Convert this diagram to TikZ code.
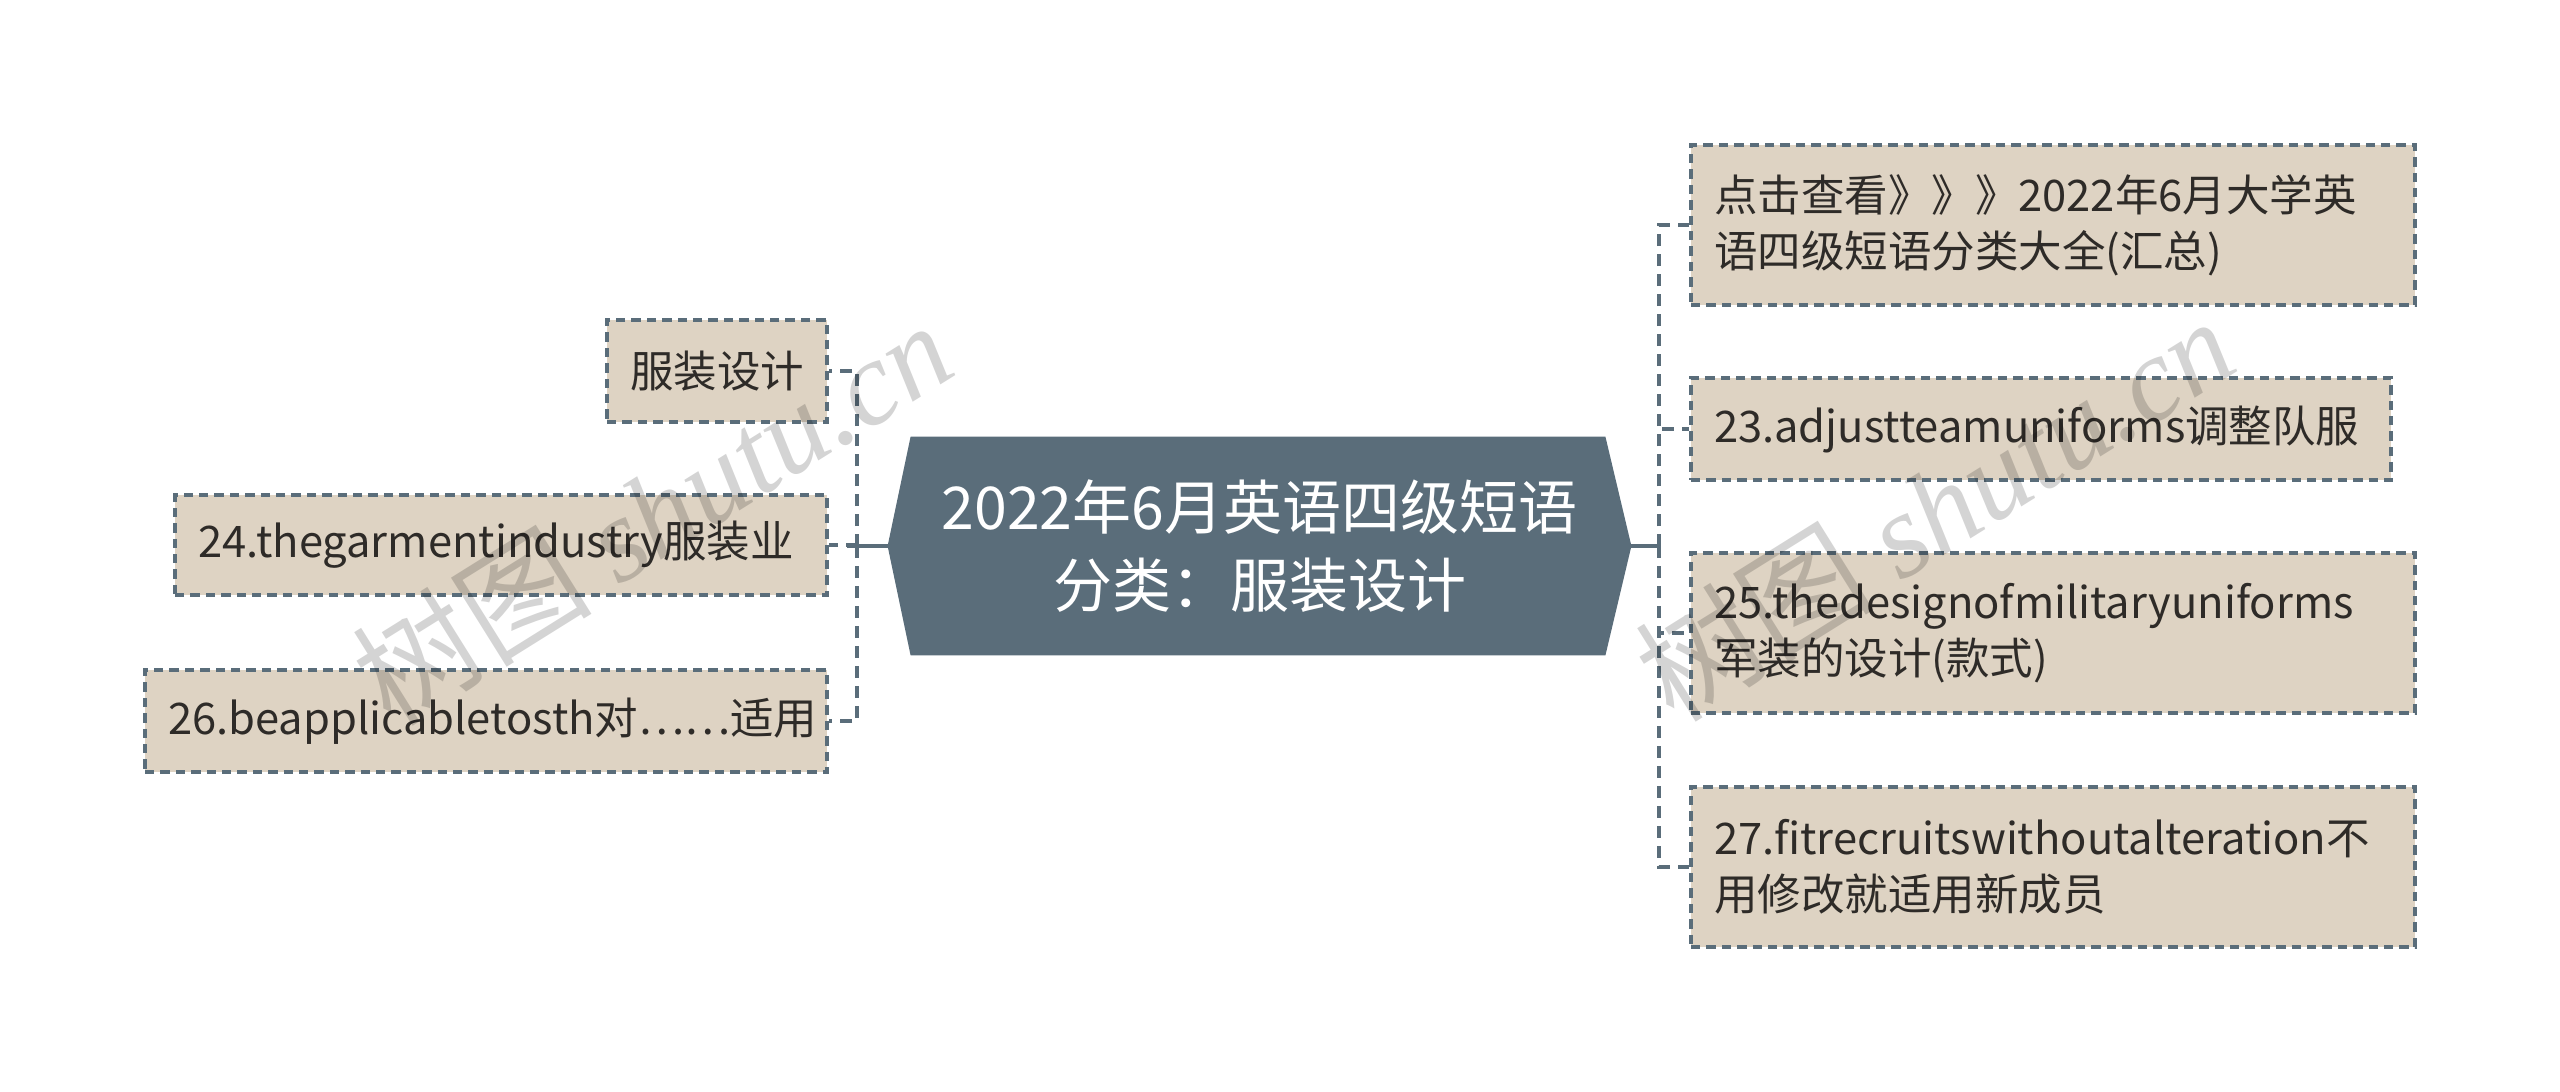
\documentclass[tikz,border=0pt]{standalone}
\usepackage{fontspec}
\setmainfont{Noto Sans CJK SC}
\newfontfamily\wmlatin{Liberation Serif}
\usetikzlibrary{backgrounds}
\definecolor{boxfill}{HTML}{DED3C3}
\definecolor{slate}{HTML}{5A6D7A}
\definecolor{ink}{HTML}{2E2B28}
\begin{document}
\begin{tikzpicture}[x=0.5pt,y=-0.5pt,
  leaf/.style={draw=slate, fill=boxfill, line width=1.6pt, dash pattern=on 4.7pt off 3pt,
    inner xsep=11.5pt, inner ysep=0pt, text=ink, align=left, anchor=center,
    font=\fontsize{21.75pt}{28pt}\selectfont},
  rootnode/.style={inner sep=0pt, align=center, text=white, minimum width=371.5pt,
    minimum height=109pt, font=\fontsize{29.5pt}{39pt}\selectfont},
  stub/.style={draw=slate, line width=2.2pt},
  dconn/.style={draw=slate, line width=2.3pt, dash pattern=on 6pt off 4pt},
  wm/.style={text=black, opacity=0.17, inner sep=0pt, font=\fontsize{60pt}{64pt}\selectfont}
]
\useasboundingbox (0,0) rectangle (2560,1092);

% central topic
\node[rootnode] (root) at (1259.5,546) {2022年6月英语四级短语\\分类：服装设计};
\begin{scope}[on background layer]
\fill[white] (0,0) rectangle (2560,1092);
\fill[slate] (root.west) -- ([xshift=11.5pt]root.north west) -- ([xshift=-13pt]root.north east)
  -- (root.east) -- ([xshift=-13pt]root.south east) -- ([xshift=11.5pt]root.south west) -- cycle;
\end{scope}

% left leaves
\node[leaf, minimum width=110pt, minimum height=51pt, text width=87pt] (L1) at (717,371) {服装设计};
\node[leaf, minimum width=326pt, minimum height=50pt, text width=303pt] (L2) at (501,545) {24.thegarmentindustry服装业};
\node[leaf, minimum width=341pt, minimum height=51pt, text width=318pt] (L3) at (486,721) {26.beapplicabletosth对……适用};

% right leaves
\node[leaf, minimum width=362pt, minimum height=80pt, text width=339pt] (R1) at (2053,225) {点击查看》》》2022年6月大学英\\语四级短语分类大全(汇总)};
\node[leaf, minimum width=350pt, minimum height=51pt, text width=327pt] (R2) at (2041,429) {23.adjustteamuniforms调整队服};
\node[leaf, minimum width=362pt, minimum height=80pt, text width=339pt] (R3) at (2053,633) {25.thedesignofmilitaryuniforms\\军装的设计(款式)};
\node[leaf, minimum width=362pt, minimum height=80pt, text width=339pt] (R4) at (2053,867) {27.fitrecruitswithoutalteration不\\用修改就适用新成员};

% connectors
\coordinate (jL) at (857,546);
\coordinate (jR) at (1659,546);
\draw[dconn] (jL) |- (L1.east);
\draw[dconn] (jL) |- (L2.east);
\draw[dconn] (jL) |- (L3.east);
\draw[dconn] (jR) |- (R1.west);
\draw[dconn] (jR) |- (R2.west);
\draw[dconn] (jR) |- (R3.west);
\draw[dconn] (jR) |- (R4.west);
\draw[stub] (root.west) -- ([xshift=-5pt]jL);
\draw[stub] (root.east) -- (jR);

% watermarks
\node[wm, rotate=32] (wm1) at (652,512) {树图 {\wmlatin\itshape shutu.cn}};
\node[wm, rotate=32] (wm2) at (1934,508) {树图 {\wmlatin\itshape shutu.cn}};
\end{tikzpicture}
\end{document}
